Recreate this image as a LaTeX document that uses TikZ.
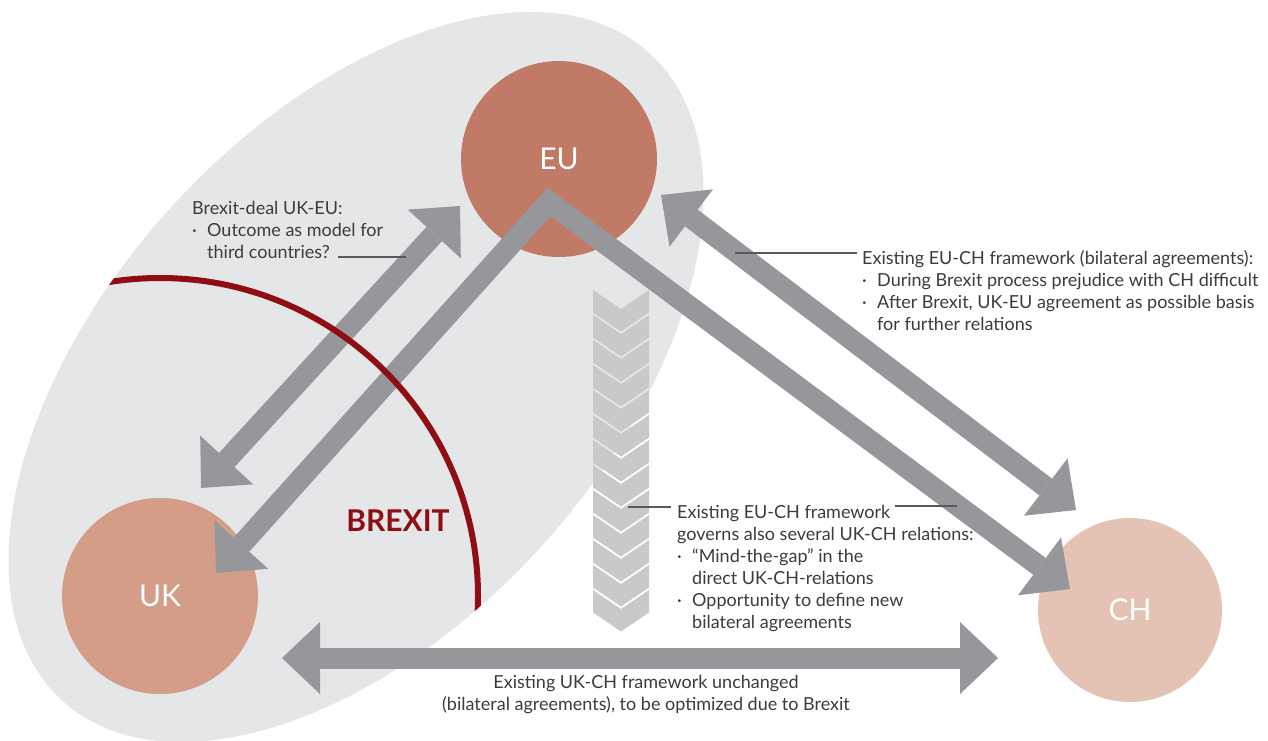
\documentclass[tikz,border=0pt]{standalone}
\usepackage{fontspec}
\setmainfont{Lato}
\usetikzlibrary{arrows.meta}
\definecolor{eucol}{HTML}{C17A66}
\definecolor{ukcol}{HTML}{D39D88}
\definecolor{chcol}{HTML}{E5C3B4}
\definecolor{bgcol}{HTML}{E5E6E8}
\definecolor{arrcol}{HTML}{96979A}
\definecolor{chevcol}{HTML}{C8C9CB}
\definecolor{brexred}{HTML}{8F0E14}
\definecolor{txtcol}{HTML}{3C3C3C}
\newcommand{\bul}{\makebox[15pt][l]{·}}
\newcommand{\ind}{\hspace*{15pt}}

\begin{document}
\begin{tikzpicture}[x=1pt,y=-1pt,
 every node/.style={font=\fontsize{18}{22}\selectfont,text=txtcol,inner sep=0pt},
 land/.style={circle,minimum size=196pt,text=white,font=\fontsize{30}{30}\selectfont},
 bigarrow/.style={draw=arrcol,line width=21pt,line join=miter,
  {Triangle[length=38pt,width=72pt,line width=0pt]}-{Triangle[length=38pt,width=72pt,line width=0pt]}},
 leader/.style={draw=txtcol!85,line width=1.1pt},
 chevron/.style={fill=chevcol}]
\useasboundingbox (0,0) rectangle (1268,740);
\fill[white] (0,0) rectangle (1268,740);
\fill[bgcol,rotate around={47.8:(356,377)}] (356,377) ellipse [x radius=437, y radius=251];

\node[land,fill=eucol] (EU) at (559,159) {EU};
\node[land,fill=ukcol] (UK) at (160,596) {UK};
\node[land,fill=chcol,minimum size=184pt] (CH) at (1130,610) {CH};

\coordinate (ukA) at (201,488);
\coordinate (euA) at (460,206);
\coordinate (ukB) at (216,573);
\coordinate (top) at (549,202);
\coordinate (chB) at (1070,589);
\coordinate (euC) at (661,195);
\coordinate (chC) at (1076,510);
\coordinate (ukD) at (282,658);
\coordinate (chD) at (998,658);
\draw[bigarrow] (ukA) -- (euA);
\draw[bigarrow] (ukB) -- (top) -- (chB);
\draw[bigarrow] (euC) -- (chC);
\draw[bigarrow] (ukD) -- (chD);

\begin{scope}
\clip[rotate around={47.8:(356,377)}] (356,377) ellipse [x radius=437, y radius=251];
\draw[brexred,line width=6pt] (UK.center) circle [radius=318];
\end{scope}
\node[text=brexred,font=\bfseries\fontsize{30}{30}\selectfont] (brexit) at (398,521) {BREXIT};

\foreach \i in {0,...,12}
 \fill[chevron,shift={(0,25*\i)}] (593,290) -- (621,309) -- (649,290) -- (649,312.5) -- (621,331.5) -- (593,312.5) -- cycle;

\node[anchor=base west,align=left] (deal) at (192,258)
 {Brexit-deal UK-EU:\\\bul Outcome as model for\\\ind third countries?};
\node[anchor=base west,align=left] (euch) at (862,330)
 {Existing EU-CH framework (bilateral agreements):\\\bul During Brexit process prejudice with CH difficult\\
  \bul After Brexit, UK-EU agreement as possible basis\\\ind for further relations};
\node[anchor=base west,align=left] (gap) at (677,628)
 {Existing EU-CH framework\\governs also several UK-CH relations:\\\bul “Mind-the-gap” in the\\
  \ind direct UK-CH-relations\\\bul Opportunity to define new\\\ind bilateral agreements};
\node[anchor=base,align=center] (ukch) at (646,710)
 {Existing UK-CH framework unchanged\\(bilateral agreements), to be optimized due to Brexit};

\coordinate (dealA) at (338,257);
\coordinate (dealB) at (406,257);
\coordinate (euchA) at (735,253);
\coordinate (euchB) at (857,253);
\coordinate (gapA) at (628,507);
\coordinate (gapB) at (671,507);
\coordinate (gapC) at (895,506);
\coordinate (gapD) at (957,506);
\draw[leader] (dealA) -- (dealB);
\draw[leader] (euchA) -- (euchB);
\draw[leader] (gapA) -- (gapB);
\draw[leader] (gapC) -- (gapD);
\end{tikzpicture}
\end{document}
